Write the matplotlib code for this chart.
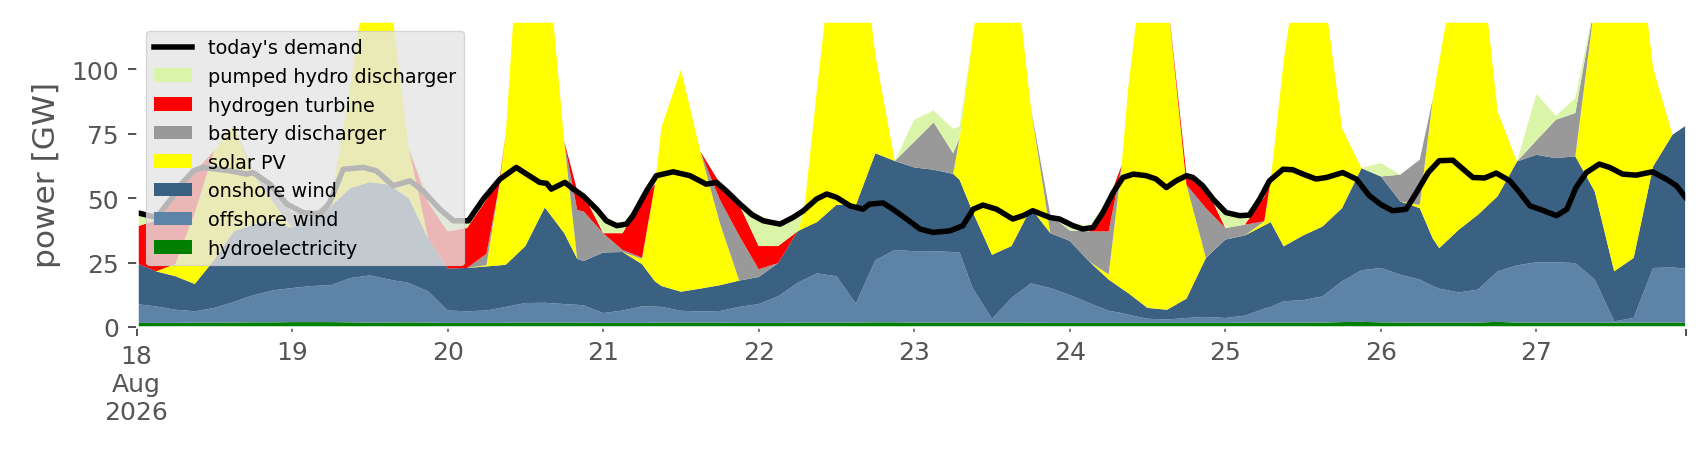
import numpy as np
import pandas as pd
import matplotlib
matplotlib.use("Agg")
import matplotlib.pyplot as plt
import matplotlib.dates as mdates

# generation readings, hours since 18 Aug 2026 00:00 (last point 27 Aug 23:00)
hours = [0, 3, 6, 9, 12, 15, 18, 21, 24, 27, 30, 33, 36, 39, 42, 45,
         48, 51, 54, 56, 57, 60, 63, 66, 68, 69, 72, 75, 78, 80, 81, 84, 87, 90, 93,
         96, 99, 102, 103, 105, 108, 111, 114, 117, 120, 123, 126, 127, 129, 132, 135, 138, 141,
         144, 147, 150, 152, 153, 156, 159, 162, 165, 168, 171, 174, 175, 177, 180, 183, 186, 189,
         192, 195, 198, 200, 201, 204, 207, 210, 213, 216, 219, 222, 225, 228, 231, 234, 237,
         239]

hydro = [1.6, 1.6, 1.6, 1.7, 1.7, 1.7, 1.8, 1.8, 1.9, 1.9, 1.9, 1.8, 1.7, 1.7, 1.8, 1.7,
         1.6, 1.6, 1.6, 1.6, 1.7, 1.7, 1.7, 1.7, 1.7, 1.7, 1.6, 1.6, 1.6, 1.7, 1.7, 1.7, 1.7, 1.7, 1.6,
         1.6, 1.6, 1.7, 1.7, 1.7, 1.7, 1.7, 1.8, 1.8, 1.7, 1.7, 1.7, 1.7, 1.7, 1.7, 1.7, 1.7, 1.6,
         1.6, 1.6, 1.6, 1.6, 1.6, 1.6, 1.6, 1.6, 1.6, 1.6, 1.7, 1.7, 1.7, 1.7, 1.7, 1.7, 1.9, 2.0,
         1.8, 1.7, 1.7, 1.7, 1.7, 1.7, 1.7, 2.0, 1.7, 1.7, 1.7, 1.7, 1.7, 1.7, 1.7, 1.7, 1.7,
         1.7]
offshore = [7.3, 6.4, 5.1, 4.4, 5.7, 8.0, 10.5, 12.4, 13.2, 14.0, 14.3, 17.2, 18.3, 16.7, 15.3, 12.1,
            4.8, 4.5, 4.8, 5.7, 6.1, 7.6, 7.7, 7.2, 6.9, 6.7, 3.8, 4.8, 6.4, 6.2, 6.1, 4.6, 4.3, 4.5, 6.2,
            7.3, 10.3, 15.4, 16.7, 19.1, 18.0, 7.4, 24.1, 28.1, 27.7, 27.7, 27.4, 27.2, 13.4, 1.4, 9.6, 15.2, 13.5,
            10.8, 7.7, 4.7, 3.8, 3.2, 1.6, 1.3, 1.9, 2.3, 1.9, 2.7, 5.4, 6.1, 8.3, 8.7, 10.2, 15.8, 20.0,
            21.1, 18.6, 16.7, 14.2, 13.2, 11.7, 12.8, 19.6, 22.2, 23.4, 23.4, 23.1, 16.7, 0.5, 1.8, 21.2, 21.4,
            20.9]
onshore = [15.9, 13.6, 13.0, 10.6, 18.7, 27.4, 27.5, 27.0, 23.3, 27.0, 30.6, 34.9, 36.2, 36.8, 32.9, 20.6,
           16.3, 16.8, 17.1, 16.6, 16.4, 22.1, 37.0, 27.5, 17.8, 17.2, 23.5, 22.7, 16.4, 9.8, 8.1, 7.4, 8.9, 10.0, 10.2,
           10.5, 12.9, 20.0, 20.0, 19.9, 27.7, 38.3, 41.5, 34.5, 32.5, 31.6, 30.3, 28.2, 29.7, 24.9, 20.1, 29.2, 21.3,
           21.0, 16.1, 12.1, 9.5, 8.4, 4.2, 3.8, 7.5, 22.9, 30.4, 31.1, 32.3, 32.9, 21.3, 25.1, 27.1, 28.4, 39.6,
           35.5, 28.4, 27.7, 18.5, 15.7, 24.3, 29.1, 29.1, 40.3, 41.7, 40.4, 41.4, 34.2, 19.4, 23.3, 39.4, 51.5,
           55.4]
solar = [0, 0, 4.7, 27.7, 42.3, 41.3, 19.4, 7.5, 0, 0, 1.3, 40.0, 89.2, 76.2, 19.4, 0,
         0, 0, 0.5, 31.4, 51.7, 159.0, 109.0, 35.6, 0, 0, 0, 0, 2.0, 37.7, 61.5, 86.2, 53.2, 24.2, 0,
         0, 0, 0, 6.4, 51.7, 111.0, 123.0, 38.0, 0, 0, 0, 0, 16.2, 67.1, 137.4, 122.0, 38.8, 0,
         0, 0, 2.0, 47.8, 79.2, 148.0, 122.7, 44.2, 0, 0, 0, 1.6, 16.4, 71.7, 120.9, 95.4, 31.0, 0,
         0, 0, 1.3, 54.0, 72.4, 108.7, 110.8, 32.9, 0, 0, 0, 0, 72.8, 138.8, 138.6, 38.1, 0,
         0]
battery = [0, 0, 0, 0, 0, 0, 1.3, 5.7, 6.0, 1.3, 0.6, 0, 0, 0, 0, 0,
           0, 0, 4.4, 0, 0, 0, 0, 0, 19.0, 19.2, 7.5, 0.8, 0.5, 0, 0, 0, 0, 9.0, 17.4,
           3.0, 0, 0, 0, 0, 0, 0, 0, 0, 10.0, 18.4, 8.0, 0, 0, 0, 0, 0, 7.0,
           4.0, 11.7, 16.7, 0, 0, 0, 0, 0, 19.3, 4.5, 4.2, 0, 0, 0, 0, 0, 0, 0,
           0, 10.4, 17.5, 0, 0, 0, 0, 0, 0, 5.6, 14.9, 16.8, 0, 0, 0, 0, 0,
           0]
hydrogen = [14.1, 19.8, 26.0, 16.0, 0, 0, 0, 0, 0, 0, 0, 0, 0, 0, 0, 14.0,
            14.4, 15.5, 21.0, 1.5, 0, 0, 0, 0, 7.5, 6.6, 0, 6.5, 22.5, 0, 0, 0, 0, 6.4, 12.0,
            9.0, 6.6, 0, 0, 0, 0, 0, 0, 0, 0, 0, 0, 0, 0, 0, 0, 0, 0,
            0, 0, 12.3, 0, 0, 0, 0, 3.9, 8.3, 0, 0, 9.4, 0, 0, 0, 0, 0, 0,
            0, 0, 0, 0, 0, 0, 0, 0, 0, 0, 0, 0, 0, 0, 0, 0, 0,
            0]
pumped_hydro = [5.5, 1.5, 1.5, 1.0, 0, 0, 0, 0, 2.4, 0, 0, 0, 0, 0, 0, 3.0,
                4.8, 3.2, 2.0, 0, 0, 0, 0, 0, 0, 0, 6.2, 3.5, 0.6, 0, 0, 0, 0, 0, 1.3,
                12.0, 9.0, 6.5, 0, 0, 0, 0, 0, 0, 8.5, 4.6, 9.5, 4.5, 0, 0, 0, 0, 0,
                3.4, 1.9, 0.6, 0, 0, 0, 0, 0, 0.5, 6.6, 3.9, 0.9, 0, 0, 0, 0, 0, 0,
                5.2, 0, 0, 0, 0, 0, 0, 0, 0, 18.0, 1.5, 5.8, 0, 0, 0, 0, 0,
                0]

# demand line, read at its own (denser) positions
demand_hours = [0.0, 3.1, 5.7, 6.7, 8.8, 10.3, 14.4, 17.0, 18.0, 20.6, 23.2, 25.7, 28.3, 29.8,
                31.9, 35.0, 37.0, 39.6, 42.2, 44.2, 46.8, 48.9,
                51.2, 53.5, 56.1, 58.6, 60.2, 62.2, 63.3, 64.0, 66.1, 67.4, 68.9, 71.0, 72.5, 74.1,
                75.6, 76.6, 78.7, 80.2, 82.8, 85.4, 87.9, 89.5, 91.0, 93.1,
                95.0, 96.7, 99.3, 101.3, 102.9, 104.9, 106.5, 108.0, 110.1, 112.1, 113.1, 115.2,
                116.7, 118.8, 120.9, 122.9, 125.5, 127.5, 129.1, 130.6, 132.7, 135.2, 136.8, 138.3,
                140.9, 142.4, 144.5, 146.0, 147.6, 149.1, 150.7, 152.2, 153.8, 155.8, 157.3, 158.9,
                160.4, 162.0, 163.0, 164.5, 166.1, 168.1, 170.2, 171.7, 173.3, 174.8, 176.9, 178.4,
                180.0, 182.0, 183.6, 186.1, 188.2, 190.2, 192.0, 193.8, 195.9, 197.5, 199.3, 201.0,
                203.1, 204.7, 206.2, 208.0, 209.8, 211.9, 213.4, 215.0, 216.5, 219.1, 220.7, 222.1,
                223.7, 225.7, 227.3, 229.3, 231.4, 233.9, 236.0, 237.6, 239.0]
demand = [44.4, 42.5, 50.9, 54.8, 60.6, 61.9, 60.6, 59.3, 59.9, 55.4, 47.7, 44.4, 43.8, 48.3,
          61.2, 61.9, 60.6, 54.8, 56.7, 52.8, 45.7, 41.2,
          41.2, 49.6, 57.4, 61.9, 59.3, 56.1, 55.7, 53.5, 56.1, 53.5, 50.9, 45.7, 41.2, 39.3,
          39.9, 43.2, 52.8, 58.7, 60.2, 58.7, 55.4, 56.1, 52.8, 47.7,
          43.5, 41.2, 39.9, 42.5, 45.1, 49.6, 51.6, 50.3, 47.0, 45.7, 47.7, 48.1,
          45.7, 41.9, 38.0, 36.7, 37.3, 39.3, 45.7, 47.3, 45.7, 41.9, 43.2, 45.1,
          42.5, 41.9, 39.3, 38.0, 38.6, 44.4, 52.2, 58.0, 59.3, 58.7, 57.4, 54.1,
          56.7, 58.7, 58.0, 54.8, 49.6, 44.4, 43.2, 43.4, 49.6, 56.7, 61.2, 61.0,
          59.3, 57.4, 58.0, 59.9, 57.4, 51.0, 47.5, 45.1, 45.7, 52.2, 59.9, 64.5,
          64.7, 61.2, 58.0, 57.8, 59.7, 56.7, 52.2, 47.0, 45.7, 43.2, 45.7, 54.1,
          59.9, 63.2, 61.9, 59.3, 58.9, 60.2, 57.4, 54.8, 50.3]

names = ["hydroelectricity", "offshore wind", "onshore wind", "solar PV",
         "battery discharger", "hydrogen turbine", "pumped hydro discharger"]
colors = ["#008000", "#5d83a6", "#3b6182", "#ffff00", "#999999", "#ff0000", "#daf5a8"]
day_labels = ["19", "20", "21", "22", "23", "24", "25", "26", "27"]

start = pd.Timestamp("2026-08-18")
times = mdates.date2num((start + pd.to_timedelta(hours, unit="h")).to_pydatetime())
dtimes = mdates.date2num((start + pd.to_timedelta(demand_hours, unit="h")).to_pydatetime())
days = mdates.date2num((start + pd.to_timedelta(range(1, 10), unit="D")).to_pydatetime())

plt.style.use("ggplot")
fig = plt.figure(figsize=(1706 / 180, 460 / 180), dpi=180)
ax = fig.add_axes([136.5 / 1706, 1 - 328 / 460, (1685.5 - 136.5) / 1706, (328 - 22) / 460])
ax.set_facecolor("white")
ax.grid(False)

polys = ax.stackplot(times, hydro, offshore, onshore, solar, battery, hydrogen, pumped_hydro,
                     colors=colors, labels=names, linewidth=0)
line, = ax.plot(dtimes, demand, color="black", lw=2.2, label="today's demand")

ax.set_xlim(times[0], times[-1])
ax.set_ylim(0, 118.7)
ax.set_yticks([0, 25, 50, 75, 100])
ax.set_xticks([times[0], times[-1]], labels=["18\nAug\n2026", ""])
ax.set_xticks(days, labels=day_labels, minor=True)
ax.tick_params(axis="both", which="major", length=3.5, width=0.8, colors="#555555", labelsize=10)
ax.tick_params(axis="x", which="minor", length=2, width=0.6, colors="#555555", labelsize=10)
ax.set_ylabel("power [GW]", fontsize=12.5, color="#555555")

ax.legend(handles=[line] + polys[::-1], labels=["today's demand"] + names[::-1],
          loc="upper left", fontsize=7.7, facecolor="#e5e5e5", framealpha=0.8)

fig.savefig("out.png", dpi=180)
